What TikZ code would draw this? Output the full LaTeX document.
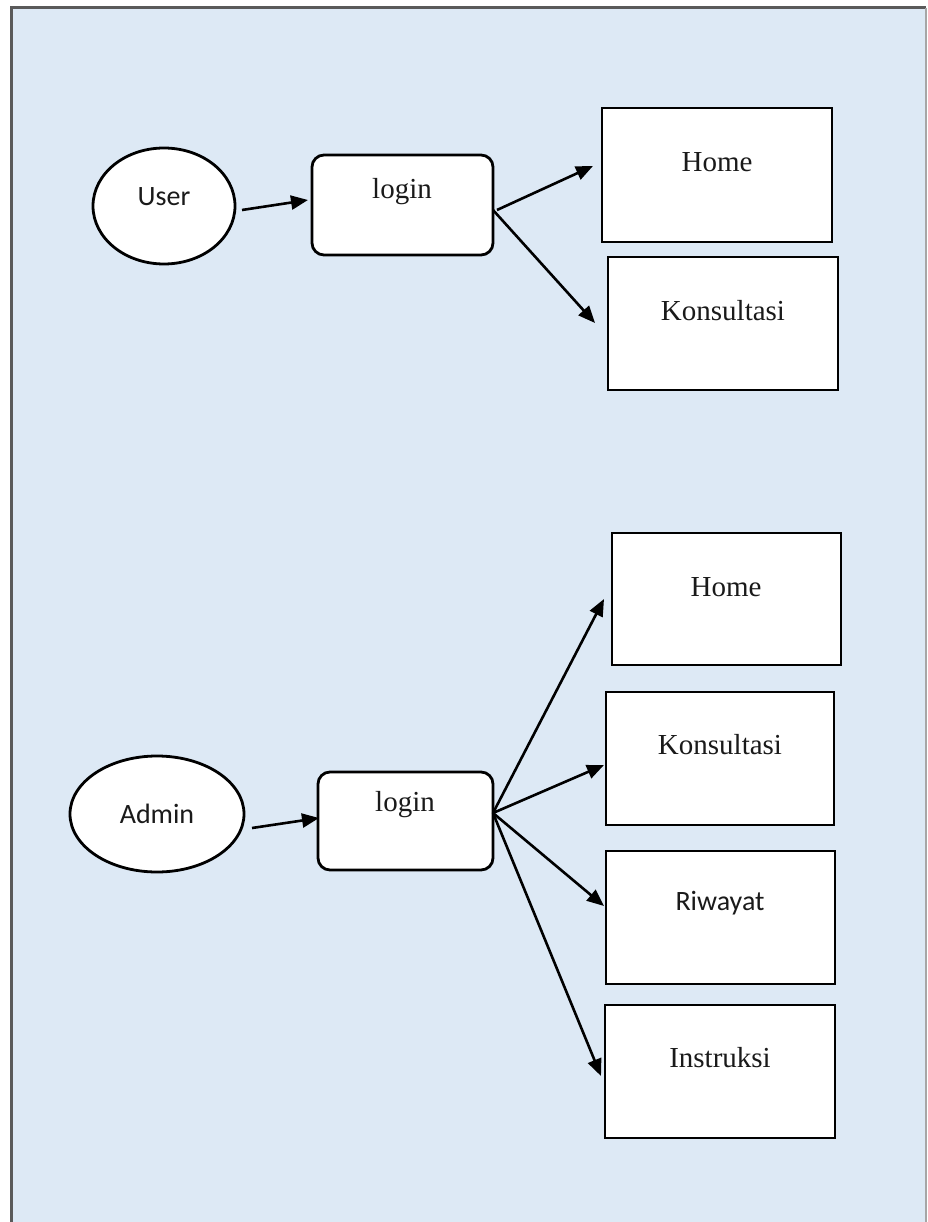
\documentclass[tikz,border=0pt]{standalone}
\usepackage{fontspec}
\setmainfont{Liberation Serif}
\newfontfamily\calib{Carlito}
\usetikzlibrary{arrows.meta}
\definecolor{bgblue}{HTML}{DDE9F5}
\definecolor{framegray}{HTML}{5A5A5A}
\definecolor{inkc}{HTML}{1A1A1A}
\tikzset{
  boxline/.style={draw=black,line width=2.8pt,fill=white},
  sertext/.style={text=inkc,font=\fontsize{29}{32}\selectfont},
  caltext/.style={text=inkc,font=\calib\fontsize{28}{32}\selectfont},
  arr/.style={line width=2.6pt,-{Triangle[length=17pt,width=14pt]}}
}
\begin{document}
\begin{tikzpicture}[x=1pt,y=-1pt]
\useasboundingbox (0,0) rectangle (927,1222);
\fill[white] (0,0) rectangle (927,1222);
\fill[bgblue] (11,8) rectangle (926,1222);
\draw[framegray,line width=3pt] (11,1222) -- (11,8) -- (926,8);
\draw[gray!70,line width=1.2pt] (926,8) -- (926,1222);

% user part
\draw[boxline] (164,206) ellipse [x radius=71,y radius=58];
\node[caltext] (user) at (164,197) {User};
\coordinate (userE) at (242,210);

\draw[boxline,rounded corners=12pt] (312,155) rectangle (493,255);
\node[sertext] (login1) at (402,192) {login};
\coordinate (l1a) at (497,210);
\coordinate (l1b) at (493,210);

\draw[boxline] (602,108) rectangle (832,242);
\node[sertext] (home1) at (717,162) {Home};
\draw[boxline] (608,257) rectangle (838,390);
\node[sertext] (kons1) at (723,311) {Konsultasi};

\coordinate (u1) at (308,200);
\coordinate (h1) at (593,166);
\coordinate (k1) at (595,323);
\draw[arr] (userE) -- (u1);
\draw[arr] (l1a) -- (h1);
\draw[arr] (l1b) -- (k1);

% admin part
\draw[boxline] (157,814) ellipse [x radius=87,y radius=58];
\node[caltext] (admin) at (157,814) {Admin};
\coordinate (adminE) at (252,828);

\draw[boxline,rounded corners=12pt] (318,772) rectangle (493,870);
\node[sertext] (login2) at (405,805) {login};
\coordinate (l2) at (493,813);

\draw[boxline] (612,533) rectangle (841,665);
\node[sertext] (home2) at (726,587) {Home};
\draw[boxline] (606,692) rectangle (834,825);
\node[sertext] (kons2) at (720,745) {Konsultasi};
\draw[boxline] (606,851) rectangle (835,984);
\node[caltext] (riw) at (720,903) {Riwayat};
\draw[boxline] (605,1005) rectangle (835,1138);
\node[sertext] (instr) at (720,1058) {Instruksi};

\coordinate (a2) at (319,818);
\coordinate (h2) at (604,599);
\coordinate (k2) at (604,765);
\coordinate (r2) at (604,906);
\coordinate (i2) at (601,1076);
\draw[arr] (adminE) -- (a2);
\draw[arr] (l2) -- (h2);
\draw[arr] (l2) -- (k2);
\draw[arr] (l2) -- (r2);
\draw[arr] (l2) -- (i2);
\end{tikzpicture}
\end{document}
